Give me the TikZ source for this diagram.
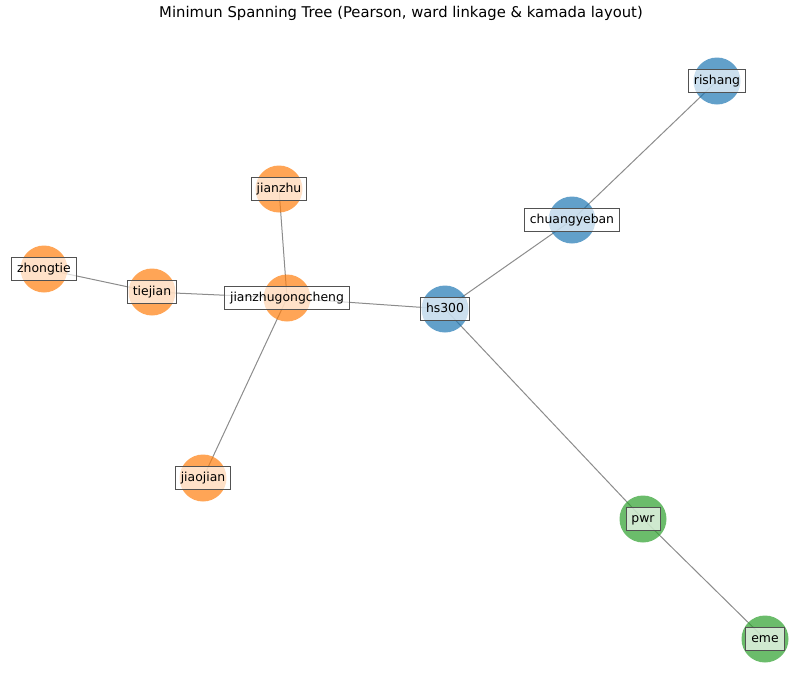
\documentclass[tikz,border=0pt]{standalone}
\usepackage{fontspec}
\setmainfont{DejaVu Sans}
\definecolor{mplorange}{HTML}{FF7F0E}
\definecolor{mplblue}{HTML}{1F77B4}
\definecolor{mplgreen}{HTML}{2CA02C}
\definecolor{edgegray}{HTML}{8C8C8C}
\begin{document}
\begin{tikzpicture}[x=1pt,y=-1pt,
  edge/.style={draw=edgegray, line width=1pt},
  dot/.style={circle, minimum size=47pt, inner sep=0pt, fill opacity=0.7},
  lbl/.style={draw=black!68, fill=white, fill opacity=0.68, draw opacity=1, text opacity=1,
    line width=0.9pt, inner xsep=5.5pt, inner ysep=5pt, text height=9.7pt, text depth=3.3pt,
    font=\fontsize{12.4}{14}\selectfont},
  ttl/.style={font=\fontsize{14.8}{17}\selectfont, anchor=base, inner sep=0pt}]
\useasboundingbox (0,0) rectangle (809,678);
\node[ttl] (title) at (401,17) {Minimun Spanning Tree (Pearson, ward linkage \& kamada layout)};
% positions
\coordinate (rishang) at (717,81);
\coordinate (chuangyeban) at (572,220);
\coordinate (hs300) at (445,309);
\coordinate (jzgc) at (287,298);
\coordinate (jianzhu) at (279,189);
\coordinate (tiejian) at (152,292);
\coordinate (zhongtie) at (44,269);
\coordinate (jiaojian) at (203,478);
\coordinate (pwr) at (643,519);
\coordinate (eme) at (765,639);
% edges
\draw[edge] (rishang) -- (chuangyeban);
\draw[edge] (chuangyeban) -- (hs300);
\draw[edge] (hs300) -- (jzgc);
\draw[edge] (jzgc) -- (jianzhu);
\draw[edge] (jzgc) -- (tiejian);
\draw[edge] (tiejian) -- (zhongtie);
\draw[edge] (jzgc) -- (jiaojian);
\draw[edge] (hs300) -- (pwr);
\draw[edge] (pwr) -- (eme);
% circles
\node[dot, fill=mplblue] (c-rishang) at (rishang) {};
\node[dot, fill=mplblue] (c-chuangyeban) at (chuangyeban) {};
\node[dot, fill=mplblue] (c-hs300) at (hs300) {};
\node[dot, fill=mplorange] (c-jzgc) at (jzgc) {};
\node[dot, fill=mplorange] (c-jianzhu) at (jianzhu) {};
\node[dot, fill=mplorange] (c-tiejian) at (tiejian) {};
\node[dot, fill=mplorange] (c-zhongtie) at (zhongtie) {};
\node[dot, fill=mplorange] (c-jiaojian) at (jiaojian) {};
\node[dot, fill=mplgreen] (c-pwr) at (pwr) {};
\node[dot, fill=mplgreen] (c-eme) at (eme) {};
% labels
\node[lbl] (l-rishang) at (rishang) {rishang};
\node[lbl] (l-chuangyeban) at (chuangyeban) {chuangyeban};
\node[lbl] (l-hs300) at (hs300) {hs300};
\node[lbl] (l-jzgc) at (jzgc) {jianzhugongcheng};
\node[lbl] (l-jianzhu) at (jianzhu) {jianzhu};
\node[lbl] (l-tiejian) at (tiejian) {tiejian};
\node[lbl] (l-zhongtie) at (zhongtie) {zhongtie};
\node[lbl] (l-jiaojian) at (jiaojian) {jiaojian};
\node[lbl] (l-pwr) at (pwr) {pwr};
\node[lbl] (l-eme) at (eme) {eme};
\end{tikzpicture}
\end{document}
